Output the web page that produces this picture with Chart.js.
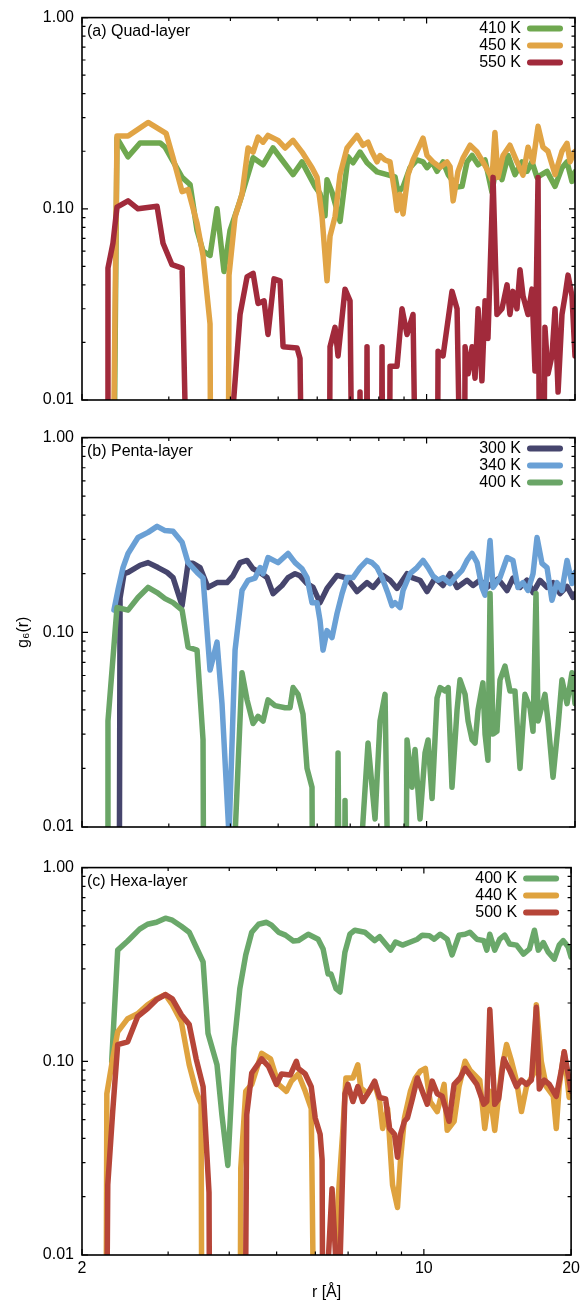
<!DOCTYPE html>
<html><head><meta charset="utf-8">
<script src="https://cdn.jsdelivr.net/npm/chart.js@4.4.1/dist/chart.umd.min.js"></script>
<style>
html,body{margin:0;padding:0;background:#fff;}
#wrap{position:relative;width:584px;height:1306px;background:#fff;}
canvas{position:absolute;left:0;}
</style></head><body>
<div id="wrap">
<canvas id="ca" width="584" height="420" style="top:0px"></canvas>
<canvas id="cb" width="584" height="430" style="top:420px"></canvas>
<canvas id="cc" width="584" height="456" style="top:850px"></canvas>
</div>
<script>
// ---- axes ----
const xRange = [2, 20];
const yRange = [0.01, 1];
const xTickLabels = [2, 10, 20];
const xMinorTicks = [3, 4, 5, 6, 7, 8, 9];
const yTickLabels = [0.01, 0.1, 1];
const yMinorTicks = [0.02,0.03,0.04,0.05,0.06,0.07,0.08,0.09,0.2,0.3,0.4,0.5,0.6,0.7,0.8,0.9];

// ---- series: [r (Å), g6(r)]; values below 0.01 are off-scale (drop to axis) ----
const quad410 = [[2.311,0.001],[2.355,0.234],[2.480,0.187],[2.623,0.221],[2.880,0.221],[2.948,0.210],[3.192,0.146],[3.313,0.134],[3.423,0.077],[3.520,0.060],[3.637,0.057],[3.758,0.100],[3.882,0.047],[3.993,0.077],[4.184,0.110],[4.447,0.185],[4.659,0.170],[4.881,0.208],[5.091,0.180],[5.360,0.151],[5.589,0.176],[5.721,0.157],[5.939,0.131],[6.079,0.120],[6.223,0.092],[6.281,0.142],[6.430,0.122],[6.675,0.086],[6.929,0.187],[7.092,0.174],[7.328,0.198],[7.571,0.174],[7.933,0.156],[8.313,0.151],[8.629,0.147],[8.751,0.122],[8.958,0.130],[9.255,0.164],[9.563,0.180],[9.835,0.176],[10.02,0.164],[10.26,0.176],[10.50,0.157],[10.80,0.176],[11.06,0.151],[11.53,0.130],[11.80,0.131],[12.08,0.176],[12.37,0.190],[12.72,0.170],[13.14,0.180],[13.57,0.122],[13.89,0.176],[14.22,0.142],[14.63,0.190],[15.11,0.151],[15.61,0.176],[15.98,0.157],[16.36,0.176],[16.75,0.146],[17.55,0.157],[18.22,0.131],[18.82,0.164],[19.27,0.176],[19.72,0.139],[20.0,0.156]];
const quad450 = [[2.300,0.001],[2.355,0.240],[2.480,0.240],[2.723,0.283],[2.962,0.248],[3.060,0.185],[3.192,0.123],[3.282,0.126],[3.423,0.084],[3.520,0.057],[3.637,0.025],[3.654,0.001],[3.955,0.001],[3.974,0.045],[4.088,0.091],[4.223,0.119],[4.343,0.208],[4.447,0.198],[4.551,0.237],[4.659,0.223],[4.768,0.242],[4.996,0.228],[5.163,0.208],[5.360,0.228],[5.589,0.198],[5.856,0.164],[5.995,0.146],[6.136,0.091],[6.281,0.042],[6.370,0.072],[6.521,0.091],[6.675,0.151],[6.896,0.208],[7.226,0.242],[7.328,0.228],[7.431,0.215],[7.607,0.223],[7.750,0.198],[7.933,0.176],[8.045,0.190],[8.236,0.180],[8.430,0.176],[8.629,0.119],[8.710,0.098],[8.833,0.119],[8.958,0.094],[9.170,0.151],[9.386,0.180],[9.835,0.234],[10.02,0.190],[10.30,0.176],[10.65,0.165],[11.00,0.176],[11.16,0.166],[11.32,0.110],[11.58,0.157],[11.86,0.185],[12.25,0.215],[12.66,0.198],[13.01,0.176],[13.45,0.151],[13.57,0.142],[13.76,0.251],[13.96,0.146],[14.29,0.190],[14.76,0.215],[15.25,0.176],[15.69,0.150],[16.06,0.210],[16.44,0.176],[16.83,0.270],[17.22,0.210],[17.63,0.200],[18.22,0.151],[18.82,0.200],[19.27,0.220],[19.54,0.176],[20.0,0.200]];
const quad550 = [[2.248,0.001],[2.258,0.049],[2.311,0.066],[2.355,0.102],[2.480,0.110],[2.598,0.100],[2.840,0.103],[2.920,0.066],[3.045,0.051],[3.192,0.049],[3.297,0.001],[4.049,0.009],[4.184,0.028],[4.323,0.044],[4.447,0.046],[4.551,0.032],[4.681,0.033],[4.768,0.022],[4.904,0.043],[5.044,0.042],[5.115,0.019],[5.461,0.0187],[5.537,0.0165],[5.615,0.001],[6.340,0.001],[6.370,0.019],[6.521,0.024],[6.613,0.017],[6.832,0.038],[6.994,0.033],[7.092,0.001],[7.294,0.001],[7.328,0.011],[7.362,0.001],[7.536,0.001],[7.571,0.019],[7.607,0.001],[8.083,0.001],[8.121,0.019],[8.159,0.001],[8.391,0.001],[8.430,0.015],[8.710,0.015],[8.916,0.030],[9.127,0.022],[9.386,0.028],[9.563,0.001],[10.50,0.001],[10.55,0.018],[10.80,0.017],[11.26,0.037],[11.53,0.030],[11.80,0.001],[11.91,0.001],[11.97,0.019],[12.14,0.0137],[12.37,0.019],[12.54,0.013],[12.72,0.030],[12.95,0.0126],[13.14,0.033],[13.32,0.021],[13.64,0.146],[13.89,0.028],[14.22,0.030],[14.56,0.040],[14.76,0.028],[14.97,0.037],[15.25,0.030],[15.47,0.048],[15.69,0.035],[16.06,0.028],[16.36,0.038],[16.59,0.0142],[16.83,0.146],[16.98,0.001],[17.22,0.001],[17.38,0.024],[17.63,0.0137],[17.96,0.017],[18.22,0.030],[18.48,0.011],[18.82,0.028],[19.09,0.035],[19.36,0.045],[19.72,0.035],[20.0,0.017]];

const penta300 = [[2.377,0.001],[2.389,0.150],[2.434,0.200],[2.480,0.203],[2.623,0.221],[2.723,0.228],[2.853,0.215],[2.976,0.203],[3.060,0.191],[3.192,0.137],[3.282,0.226],[3.359,0.226],[3.471,0.215],[3.603,0.170],[3.758,0.180],[3.937,0.180],[4.049,0.195],[4.184,0.228],[4.323,0.234],[4.447,0.212],[4.594,0.203],[4.746,0.191],[4.881,0.158],[5.091,0.174],[5.236,0.191],[5.410,0.200],[5.537,0.195],[5.721,0.178],[5.884,0.170],[6.079,0.142],[6.281,0.168],[6.582,0.196],[6.896,0.190],[7.226,0.162],[7.571,0.180],[7.786,0.170],[8.159,0.196],[8.430,0.185],[8.710,0.168],[9.127,0.200],[9.342,0.191],[9.698,0.185],[10.02,0.162],[10.40,0.190],[10.80,0.174],[11.16,0.200],[11.53,0.170],[12.08,0.185],[12.42,0.174],[12.83,0.185],[13.26,0.170],[13.64,0.180],[13.96,0.188],[14.56,0.164],[14.97,0.190],[15.47,0.170],[15.98,0.185],[16.44,0.160],[16.98,0.185],[17.55,0.170],[18.05,0.180],[18.65,0.158],[19.27,0.172],[19.82,0.151],[20.0,0.158]];
const penta340 = [[2.322,0.130],[2.366,0.165],[2.422,0.215],[2.480,0.254],[2.598,0.307],[2.723,0.326],[2.840,0.350],[2.948,0.333],[3.060,0.330],[3.192,0.290],[3.282,0.228],[3.423,0.203],[3.520,0.190],[3.637,0.064],[3.758,0.089],[3.846,0.043],[3.974,0.009],[4.088,0.081],[4.223,0.164],[4.343,0.185],[4.488,0.190],[4.594,0.215],[4.659,0.200],[4.768,0.242],[4.996,0.228],[5.236,0.254],[5.410,0.228],[5.589,0.212],[5.721,0.191],[5.856,0.142],[5.995,0.142],[6.079,0.115],[6.165,0.081],[6.281,0.102],[6.430,0.094],[6.582,0.125],[6.738,0.158],[6.896,0.191],[7.092,0.191],[7.328,0.215],[7.571,0.234],[7.750,0.228],[7.933,0.215],[8.121,0.191],[8.352,0.158],[8.509,0.137],[8.629,0.142],[8.833,0.134],[8.958,0.164],[9.255,0.200],[9.563,0.215],[9.835,0.234],[10.07,0.215],[10.30,0.195],[10.55,0.185],[10.80,0.191],[11.16,0.178],[11.42,0.191],[11.80,0.208],[12.08,0.234],[12.37,0.254],[12.66,0.228],[12.95,0.170],[13.14,0.155],[13.45,0.296],[13.64,0.170],[14.09,0.191],[14.56,0.242],[14.97,0.234],[15.32,0.170],[15.69,0.180],[16.06,0.164],[16.44,0.200],[16.75,0.307],[17.14,0.226],[17.55,0.215],[17.96,0.146],[18.39,0.180],[18.82,0.164],[19.27,0.234],[19.72,0.178],[20.0,0.203]];
const penta400 = [[2.248,0.001],[2.258,0.035],[2.355,0.134],[2.480,0.130],[2.598,0.151],[2.723,0.170],[2.840,0.160],[2.948,0.149],[3.060,0.142],[3.192,0.130],[3.282,0.084],[3.423,0.081],[3.520,0.028],[3.537,0.001],[4.068,0.001],[4.088,0.009],[4.223,0.062],[4.323,0.045],[4.447,0.034],[4.551,0.037],[4.659,0.035],[4.768,0.045],[4.927,0.042],[5.163,0.041],[5.285,0.041],[5.360,0.052],[5.486,0.048],[5.615,0.038],[5.721,0.020],[5.856,0.016],[5.884,0.001],[6.551,0.001],[6.613,0.024],[6.675,0.001],[6.800,0.001],[6.832,0.0137],[6.896,0.001],[7.362,0.001],[7.397,0.009],[7.607,0.027],[7.860,0.011],[8.045,0.035],[8.236,0.048],[8.430,0.001],[9.042,0.001],[9.127,0.028],[9.342,0.016],[9.474,0.025],[9.698,0.011],[9.927,0.024],[10.07,0.028],[10.26,0.014],[10.50,0.046],[10.65,0.052],[10.90,0.050],[11.06,0.052],[11.26,0.016],[11.53,0.040],[11.69,0.057],[11.97,0.048],[12.14,0.035],[12.37,0.028],[12.54,0.027],[12.72,0.040],[13.01,0.055],[13.14,0.030],[13.32,0.022],[13.45,0.158],[13.64,0.030],[13.89,0.031],[14.09,0.057],[14.42,0.067],[14.76,0.050],[15.11,0.050],[15.47,0.020],[15.83,0.048],[16.21,0.041],[16.44,0.031],[16.67,0.158],[16.83,0.035],[17.38,0.048],[17.63,0.035],[18.05,0.018],[18.48,0.033],[18.82,0.057],[19.27,0.043],[19.72,0.062],[20.0,0.043]];

const hexa400 = [[2.300,0.100],[2.366,0.375],[2.480,0.418],[2.623,0.481],[2.723,0.510],[2.840,0.522],[2.962,0.548],[3.060,0.535],[3.192,0.498],[3.313,0.464],[3.423,0.389],[3.537,0.326],[3.620,0.139],[3.776,0.096],[3.864,0.053],[3.974,0.029],[4.088,0.117],[4.204,0.237],[4.323,0.354],[4.447,0.464],[4.594,0.510],[4.768,0.522],[4.881,0.505],[5.044,0.464],[5.211,0.448],[5.410,0.418],[5.537,0.420],[5.802,0.453],[6.079,0.427],[6.223,0.380],[6.370,0.282],[6.460,0.282],[6.613,0.237],[6.738,0.228],[6.896,0.366],[7.059,0.453],[7.226,0.475],[7.571,0.464],[7.933,0.420],[8.121,0.440],[8.352,0.403],[8.549,0.375],[8.751,0.413],[9.042,0.398],[9.386,0.413],[9.698,0.427],[9.927,0.448],[10.26,0.445],[10.50,0.427],[10.80,0.453],[11.16,0.427],[11.42,0.354],[11.80,0.448],[12.14,0.453],[12.42,0.464],[12.83,0.427],[13.26,0.420],[13.45,0.375],[13.64,0.453],[13.96,0.375],[14.29,0.427],[14.63,0.448],[14.97,0.403],[15.47,0.398],[15.98,0.358],[16.44,0.380],[16.83,0.475],[17.14,0.375],[17.55,0.410],[17.96,0.366],[18.48,0.337],[18.91,0.398],[19.27,0.420],[19.72,0.390],[20.0,0.345]];
const hexa440 = [[2.237,0.001],[2.248,0.068],[2.311,0.103],[2.366,0.142],[2.480,0.166],[2.598,0.176],[2.723,0.196],[2.840,0.210],[2.962,0.221],[3.060,0.196],[3.192,0.160],[3.313,0.096],[3.423,0.070],[3.504,0.060],[3.520,0.001],[4.204,0.001],[4.223,0.028],[4.323,0.070],[4.447,0.076],[4.659,0.110],[4.858,0.103],[5.044,0.076],[5.236,0.070],[5.360,0.079],[5.537,0.086],[5.721,0.070],[5.884,0.057],[5.995,0.001],[6.582,0.001],[6.675,0.019],[6.832,0.045],[6.929,0.082],[7.159,0.082],[7.328,0.096],[7.431,0.073],[7.678,0.068],[7.933,0.077],[8.121,0.062],[8.236,0.045],[8.430,0.057],[8.629,0.023],[8.833,0.0176],[8.958,0.031],[9.127,0.051],[9.386,0.070],[9.607,0.082],[9.835,0.089],[10.07,0.092],[10.30,0.062],[10.65,0.055],[11.00,0.076],[11.16,0.044],[11.53,0.049],[11.80,0.074],[12.14,0.100],[12.42,0.090],[13.01,0.080],[13.32,0.045],[13.64,0.070],[13.96,0.044],[14.42,0.090],[14.76,0.122],[15.11,0.100],[15.47,0.079],[15.83,0.055],[16.21,0.074],[16.75,0.086],[16.98,0.196],[17.38,0.100],[17.80,0.074],[18.39,0.066],[18.65,0.045],[18.91,0.074],[19.36,0.112],[19.82,0.065],[20.0,0.070]];
const hexa500 = [[2.237,0.001],[2.258,0.023],[2.311,0.055],[2.366,0.122],[2.480,0.126],[2.598,0.170],[2.723,0.187],[2.840,0.208],[2.962,0.221],[3.060,0.210],[3.192,0.174],[3.313,0.155],[3.423,0.103],[3.537,0.074],[3.637,0.021],[3.654,0.001],[4.303,0.001],[4.323,0.009],[4.343,0.053],[4.447,0.087],[4.659,0.103],[4.813,0.094],[4.996,0.076],[5.115,0.086],[5.334,0.085],[5.486,0.100],[5.537,0.092],[5.721,0.086],[5.884,0.074],[5.995,0.051],[6.136,0.042],[6.194,0.031],[6.223,0.001],[6.370,0.009],[6.490,0.022],[6.613,0.009],[6.706,0.001],[6.738,0.009],[6.896,0.068],[6.994,0.076],[7.159,0.062],[7.328,0.074],[7.501,0.062],[7.678,0.068],[7.933,0.079],[8.121,0.065],[8.352,0.064],[8.509,0.045],[8.710,0.042],[8.833,0.032],[8.958,0.042],[9.127,0.049],[9.255,0.051],[9.474,0.064],[9.698,0.082],[9.927,0.070],[10.16,0.060],[10.40,0.079],[10.65,0.068],[10.90,0.066],[11.26,0.049],[11.53,0.076],[11.86,0.082],[12.14,0.092],[12.42,0.085],[12.83,0.076],[13.26,0.060],[13.45,0.062],[13.64,0.185],[13.96,0.060],[14.22,0.064],[14.56,0.103],[14.97,0.090],[15.47,0.074],[15.83,0.080],[16.21,0.076],[16.59,0.080],[16.98,0.190],[17.22,0.072],[17.63,0.080],[18.05,0.076],[18.65,0.066],[19.09,0.089],[19.36,0.112],[19.82,0.080],[20.0,0.070]];

// ---- panel names / legends ----
const panelTitles = ['(a) Quad-layer', '(b) Penta-layer', '(c) Hexa-layer'];
const quadLabels = ['410 K', '450 K', '550 K'];
const pentaLabels = ['300 K', '340 K', '400 K'];
const hexaLabels = ['400 K', '440 K', '500 K'];

const FONT = '"Liberation Sans", Arial, Helvetica, sans-serif';
Chart.defaults.font.family = FONT;
Chart.defaults.font.size = 16;
Chart.defaults.color = '#000';

const framePlugin = {
  id: 'gpFrame',
  afterDatasetsDraw(chart, args, opts) {
    const {ctx, chartArea: a, scales: {x, y}} = chart;
    ctx.save();
    ctx.strokeStyle = '#000';
    ctx.lineWidth = 1.2;
    ctx.lineCap = 'butt';
    ctx.beginPath();
    const seg = (x0, y0, x1, y1) => { ctx.moveTo(x0, y0); ctx.lineTo(x1, y1); };
    xTickLabels.forEach(v => { const p = x.getPixelForValue(v); seg(p, a.bottom, p, a.bottom - 6); seg(p, a.top, p, a.top + 6); });
    xMinorTicks.forEach(v => { const p = x.getPixelForValue(v); seg(p, a.bottom, p, a.bottom - 3.5); seg(p, a.top, p, a.top + 3.5); });
    yTickLabels.forEach(v => { const p = y.getPixelForValue(v); seg(a.left, p, a.left + 6, p); seg(a.right, p, a.right - 6, p); });
    yMinorTicks.forEach(v => { const p = y.getPixelForValue(v); seg(a.left, p, a.left + 3.5, p); seg(a.right, p, a.right - 3.5, p); });
    ctx.stroke();
    ctx.lineWidth = 1.6;
    ctx.strokeRect(a.left, a.top, a.right - a.left, a.bottom - a.top);
    // key
    ctx.font = '16px ' + FONT;
    ctx.textBaseline = 'middle';
    chart.data.datasets.forEach((ds, i) => {
      const yy = a.top + 11 + i * 17;
      ctx.fillStyle = '#000';
      ctx.textAlign = 'right';
      ctx.fillText(ds.label, a.right - 54, yy);
      ctx.strokeStyle = ds.borderColor;
      ctx.lineWidth = 6;
      ctx.lineCap = 'round';
      ctx.beginPath();
      ctx.moveTo(a.right - 45, yy);
      ctx.lineTo(a.right - 15, yy);
      ctx.stroke();
    });
    ctx.fillStyle = '#000';
    ctx.textAlign = 'left';
    ctx.fillText(opts.title, a.left + 5, a.top + 14);
    ctx.restore();
  }
};

function makePanel(cfg) {
  const n = cfg.series.length;
  const datasets = cfg.series.map((s, i) => ({
    label: cfg.labels[i],
    data: s.map(p => ({x: p[0], y: p[1]})),
    borderColor: cfg.colors[i],
    backgroundColor: cfg.colors[i],
    borderWidth: 5.5,
    pointRadius: 0,
    pointHoverRadius: 0,
    tension: 0,
    fill: false,
    borderJoinStyle: 'round',
    borderCapStyle: 'round',
    clip: 0,
    order: n - i
  }));
  return new Chart(document.getElementById(cfg.id), {
    type: 'line',
    data: {datasets},
    plugins: [framePlugin],
    options: {
      responsive: false,
      animation: false,
      events: [],
      layout: {padding: {top: cfg.padTop, right: 9, bottom: 0, left: 0}},
      plugins: {
        legend: {display: false},
        tooltip: {enabled: false},
        gpFrame: {title: cfg.title}
      },
      scales: {
        x: {
          type: 'logarithmic', min: xRange[0], max: xRange[1],
          afterBuildTicks: s => { s.ticks = xTickLabels.map(v => ({value: v})); },
          afterFit: s => { s.height = cfg.xHeight; },
          grid: {display: false, drawTicks: false, tickLength: 0},
          border: {display: false},
          ticks: {display: cfg.showX, padding: 4, autoSkip: false, maxRotation: 0, color: '#000',
                  font: {size: 16}, callback: v => String(v)},
          title: {display: cfg.showX, text: 'r [Å]', color: '#000', font: {size: 16}, padding: {top: 4, bottom: 4}}
        },
        y: {
          type: 'logarithmic', min: yRange[0], max: yRange[1],
          afterBuildTicks: s => { s.ticks = yTickLabels.map(v => ({value: v})); },
          afterFit: s => { s.width = 82; },
          grid: {display: false, drawTicks: false, tickLength: 0},
          border: {display: false},
          ticks: {padding: 8, autoSkip: false, color: '#000', font: {size: 16},
                  callback: v => Number(v).toFixed(2)},
          title: {display: cfg.showY, text: 'g₆(r)', color: '#000', font: {size: 16}, padding: {top: 14, bottom: 0}}
        }
      }
    }
  });
}

makePanel({id: 'ca', title: panelTitles[0], labels: quadLabels, series: [quad410, quad450, quad550],
  colors: ['#6fa84f', '#e1a445', '#a12a3b'], padTop: 10, xHeight: 20, showX: false, showY: false});
makePanel({id: 'cb', title: panelTitles[1], labels: pentaLabels, series: [penta300, penta340, penta400],
  colors: ['#46456d', '#6aa0d5', '#6aa567'], padTop: 17, xHeight: 23, showX: false, showY: true});
makePanel({id: 'cc', title: panelTitles[2], labels: hexaLabels, series: [hexa400, hexa440, hexa500],
  colors: ['#6aa86a', '#dfa23e', '#b64538'], padTop: 15, xHeight: 51, showX: true, showY: false});
</script>
</body></html>
